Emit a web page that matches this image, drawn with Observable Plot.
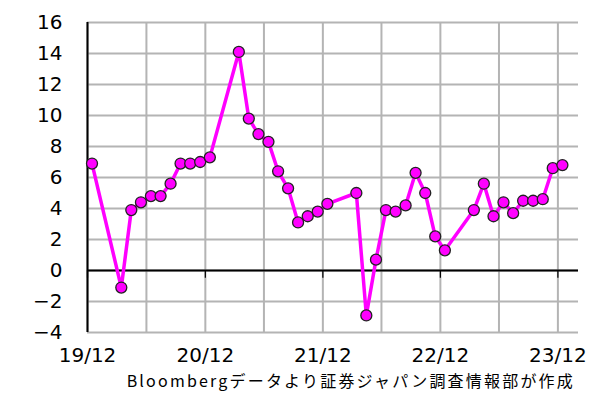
<!DOCTYPE html>
<html>
<head>
<meta charset="utf-8">
<script src="https://cdn.jsdelivr.net/npm/d3@7"></script>
<script src="https://cdn.jsdelivr.net/npm/@observablehq/plot@0.6"></script>
<style>
  html, body { margin: 0; padding: 0; background: #fff; }
  #chart svg { display: block; }
  #caption {
    width: 608px; height: 37px; box-sizing: border-box;
    text-align: right; padding-right: 33px;
    font-family: "Noto Sans CJK JP", sans-serif; font-size: 16px;
    letter-spacing: 2.2px; line-height: 28px; color: #000;
  }
</style>
</head>
<body>
<div id="chart"></div>
<div id="caption">Bloombergデータより証券ジャパン調査情報部が作成</div>
<script>
// Monthly data (Jan/Feb not published separately)
const months = [
  "2019-12",
  "2020-03","2020-04","2020-05","2020-06","2020-07","2020-08","2020-09","2020-10","2020-11","2020-12",
  "2021-03","2021-04","2021-05","2021-06","2021-07","2021-08","2021-09","2021-10","2021-11","2021-12",
  "2022-03","2022-04","2022-05","2022-06","2022-07","2022-08","2022-09","2022-10","2022-11","2022-12",
  "2023-03","2023-04","2023-05","2023-06","2023-07","2023-08","2023-09","2023-10","2023-11","2023-12"
];
const values = [
  6.9,
  -1.1, 3.9, 4.4, 4.8, 4.8, 5.6, 6.9, 6.9, 7.0, 7.3,
  14.1, 9.8, 8.8, 8.3, 6.4, 5.3, 3.1, 3.5, 3.8, 4.3,
  5.0, -2.9, 0.7, 3.9, 3.8, 4.2, 6.3, 5.0, 2.2, 1.3,
  3.9, 5.6, 3.5, 4.4, 3.7, 4.5, 4.5, 4.6, 6.6, 6.8
];
const yTicks = [-4, -2, 0, 2, 4, 6, 8, 10, 12, 14, 16];
const gridMonths = ["2019-12","2020-06","2020-12","2021-06","2021-12","2022-06","2022-12","2023-06","2023-12"];
const labelMonths = ["2019-12","2020-12","2021-12","2022-12","2023-12"];
const xDomain = ["2019-12-01", "2024-02-03"];

const parseMonth = (s, day) => { const [y, m] = s.split("-").map(Number); return new Date(Date.UTC(y, m - 1, day)); };
const data = months.map((m, i) => ({date: parseMonth(m, 15), value: values[i]}));
const gridDates = gridMonths.map(m => parseMonth(m, 1));
const labelDates = labelMonths.map(m => parseMonth(m, 1));

const chart = Plot.plot({
  width: 608,
  height: 366,
  marginTop: 22,
  marginBottom: 34,
  marginLeft: 87,
  marginRight: 30,
  style: {fontFamily: "DejaVu Sans", fontSize: "20px", color: "#000", background: "#fff", overflow: "visible"},
  x: {type: "utc", domain: xDomain.map(d => new Date(d + "T00:00:00Z")), label: null},
  y: {domain: [-4, 16], label: null},
  marks: [
    Plot.ruleY(yTicks, {stroke: "#b4b4b4", strokeWidth: 2}),
    Plot.ruleX(gridDates, {stroke: "#b4b4b4", strokeWidth: 2}),
    Plot.ruleY([0], {stroke: "#000", strokeWidth: 2}),
    Plot.ruleX(labelDates, {y1: 0, y2: -0.5, stroke: "#000", strokeWidth: 1.2}),
    Plot.ruleX([gridDates[0]], {stroke: "#000", strokeWidth: 2}),
    Plot.axisY({ticks: yTicks, label: null, tickSize: 0, tickPadding: 25, fontSize: 20, tickFormat: d => d3.format("")(d).replace("-", "−")}),
    Plot.axisX({ticks: labelDates, label: null, tickSize: 0, tickPadding: 15, fontSize: 20, tickFormat: d3.utcFormat("%y/%m")}),
    Plot.line(data, {x: "date", y: "value", stroke: "#ff00ff", strokeWidth: 3.5}),
    Plot.dot(data, {x: "date", y: "value", r: 5.5, fill: "#ff00ff", stroke: "#222", strokeWidth: 1.3})
  ]
});
document.getElementById("chart").append(chart);
</script>
</body>
</html>
